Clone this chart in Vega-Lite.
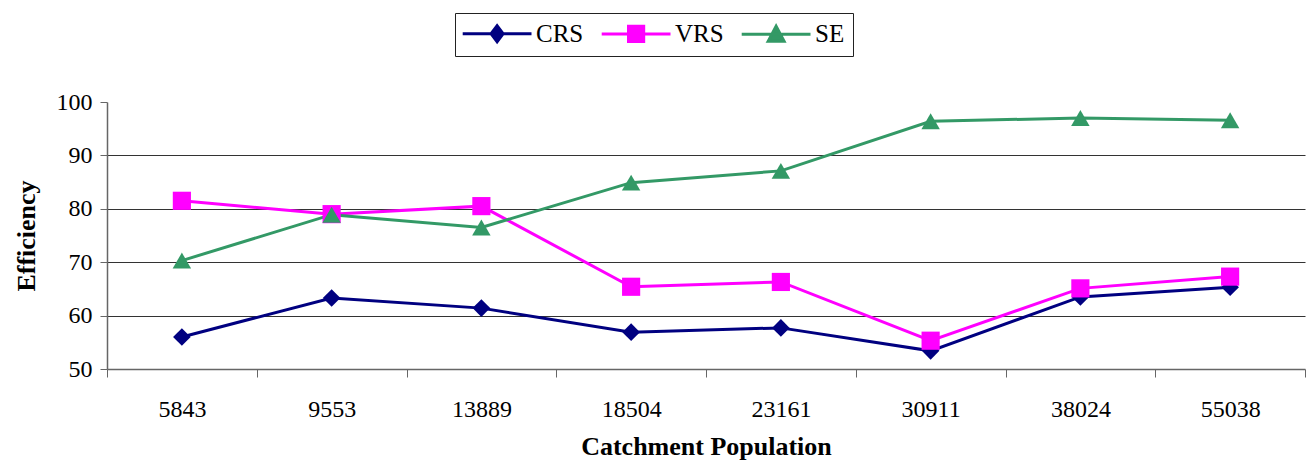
{
  "$schema": "https://vega.github.io/schema/vega-lite/v6.json",
  "width": 1198,
  "height": 267,
  "autosize": {"type": "none"},
  "padding": {"left": 107, "top": 102, "right": 7, "bottom": 98},
  "background": "white",
  "config": {
    "font": "Liberation Serif",
    "view": {"stroke": null},
    "axis": {"labelFont": "Liberation Serif", "titleFont": "Liberation Serif", "labelColor": "black", "titleColor": "black"},
    "legend": {"labelFont": "Liberation Serif"}
  },
  "data": {
    "values": [
      {"pop": "5843", "series": "CRS", "eff": 56.0},
      {"pop": "9553", "series": "CRS", "eff": 63.3},
      {"pop": "13889", "series": "CRS", "eff": 61.4},
      {"pop": "18504", "series": "CRS", "eff": 56.9},
      {"pop": "23161", "series": "CRS", "eff": 57.7},
      {"pop": "30911", "series": "CRS", "eff": 53.4},
      {"pop": "38024", "series": "CRS", "eff": 63.5},
      {"pop": "55038", "series": "CRS", "eff": 65.3},
      {"pop": "5843", "series": "VRS", "eff": 81.5},
      {"pop": "9553", "series": "VRS", "eff": 79.0},
      {"pop": "13889", "series": "VRS", "eff": 80.5},
      {"pop": "18504", "series": "VRS", "eff": 65.4},
      {"pop": "23161", "series": "VRS", "eff": 66.3},
      {"pop": "30911", "series": "VRS", "eff": 55.3},
      {"pop": "38024", "series": "VRS", "eff": 65.1},
      {"pop": "55038", "series": "VRS", "eff": 67.3},
      {"pop": "5843", "series": "SE", "eff": 70.3},
      {"pop": "9553", "series": "SE", "eff": 78.9},
      {"pop": "13889", "series": "SE", "eff": 76.5},
      {"pop": "18504", "series": "SE", "eff": 84.9},
      {"pop": "23161", "series": "SE", "eff": 87.1},
      {"pop": "30911", "series": "SE", "eff": 96.4},
      {"pop": "38024", "series": "SE", "eff": 97.0},
      {"pop": "55038", "series": "SE", "eff": 96.6}
    ]
  },
  "encoding": {
    "x": {
      "field": "pop",
      "type": "ordinal",
      "sort": null,
      "bandPosition": 0.5,
      "scale": {"type": "band", "paddingInner": 0, "paddingOuter": 0},
      "axis": {
        "title": "Catchment Population",
        "titleFontSize": 26,
        "titleFontWeight": "bold",
        "titlePadding": 12,
        "labelFontSize": 24,
        "labelAngle": 0,
        "labelPadding": 20,
        "tickBand": "extent",
        "tickSize": 8,
        "tickColor": "#666",
        "domainColor": "#666",
        "tickWidth": 1,
        "domainWidth": 1.5,
        "grid": false
      }
    },
    "y": {
      "field": "eff",
      "type": "quantitative",
      "scale": {"domain": [50, 100], "nice": false, "zero": false},
      "axis": {
        "title": "Efficiency",
        "titleFontSize": 26,
        "titleFontWeight": "bold",
        "titlePadding": 17,
        "labelFontSize": 24,
        "labelPadding": 8,
        "values": [50, 60, 70, 80, 90, 100],
        "tickSize": 7,
        "tickColor": "#666",
        "domainColor": "#666",
        "domainWidth": 1.5,
        "grid": true,
        "gridColor": "#333",
        "gridWidth": 1,
        "gridOpacity": {"condition": {"test": "datum.value >= 100 || datum.value <= 50", "value": 0}, "value": 1}
      }
    },
    "color": {
      "field": "series",
      "type": "nominal",
      "sort": ["CRS", "VRS", "SE"],
      "scale": {"domain": ["CRS", "VRS", "SE"], "range": ["#000080", "#FF00FF", "#339966"]},
      "legend": {
        "orient": "none",
        "legendX": 348,
        "legendY": -89,
        "direction": "horizontal",
        "title": null,
        "strokeColor": "#222",
        "padding": 8,
        "fillColor": "white",
        "labelFontSize": 25,
        "labelFont": "Liberation Serif",
        "labelColor": "black",
        "symbolSize": 256,
        "symbolStrokeWidth": 3,
        "labelOffset": 48,
        "columnPadding": 11,
        "encode": {
          "symbols": {
            "update": {
              "shape": {"signal": "datum.value === 'CRS' ? 'M-1.6,0H7M1.95,0L2.7,-1L3.45,0L2.7,1Z' : datum.value === 'VRS' ? 'M-1.6,0H7M1.75,-0.95H3.65V0.95H1.75Z' : 'M-1.6,0H7M1.7,0.9L2.7,-1L3.7,0.9Z'"},
              "fill": {"scale": "color", "field": "value"},
              "stroke": {"scale": "color", "field": "value"},
              "strokeWidth": {"value": 3},
              "opacity": {"value": 1}
            }
          }
        }
      }
    }
  },
  "layer": [
    {"mark": {"type": "line", "strokeWidth": 3}},
    {
      "transform": [{"filter": "datum.series === 'CRS'"}],
      "mark": {"type": "point", "shape": "diamond", "filled": true, "opacity": 1, "size": 310}
    },
    {
      "transform": [{"filter": "datum.series === 'VRS'"}],
      "mark": {"type": "point", "shape": "square", "filled": true, "opacity": 1, "size": 330}
    },
    {
      "transform": [{"filter": "datum.series === 'SE'"}],
      "mark": {"type": "point", "shape": "triangle-up", "filled": true, "opacity": 1, "size": 340}
    }
  ]
}
